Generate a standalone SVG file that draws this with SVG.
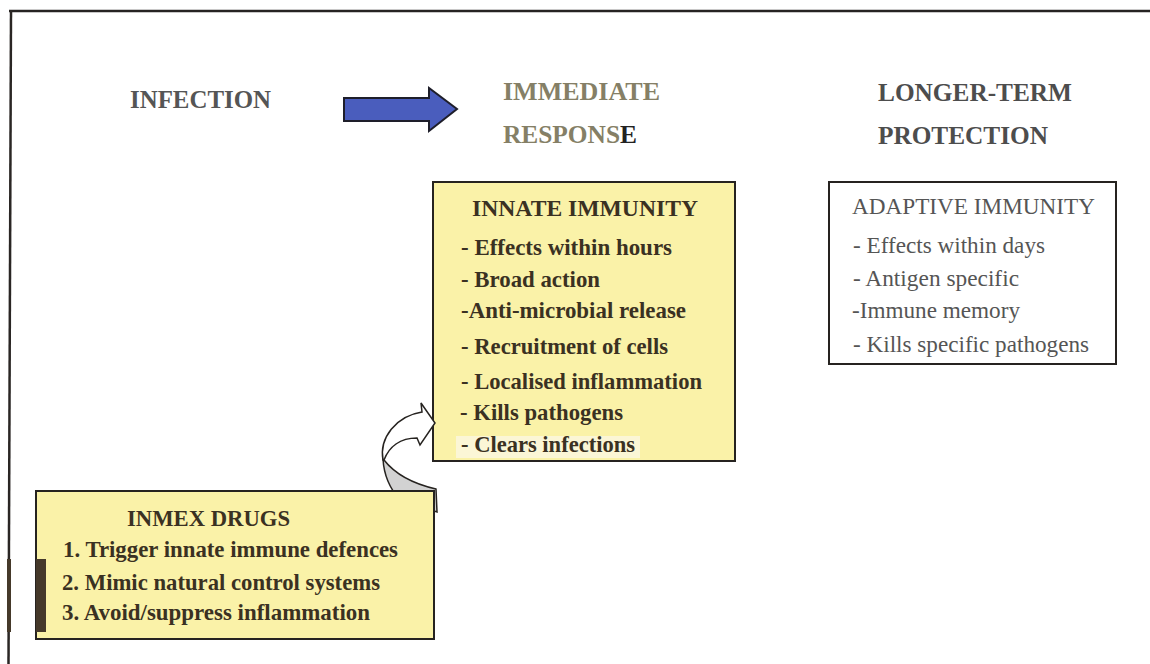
<svg xmlns="http://www.w3.org/2000/svg" width="1150" height="664" viewBox="0 0 1150 664">
<style>
.b{font-family:"Liberation Serif","Times New Roman",serif;font-weight:bold;font-size:24px}
.r{font-family:"Liberation Serif","Times New Roman",serif;font-size:23.5px}
.h{font-size:25px}
.box{fill:#faf2a8;stroke:#262320;stroke-width:2}
.it{fill:#3a3122}
.ad{fill:#555555}
</style>
<rect width="1150" height="664" fill="#ffffff"/>
<g id="frame">
<line x1="9" y1="11" x2="1150" y2="11" stroke="#262322" stroke-width="2.5"/>
<line x1="11" y1="10" x2="8.5" y2="664" stroke="#2a2624" stroke-width="2.5"/>
<rect x="7" y="559" width="4" height="73" fill="#45392a"/>
</g>
<g id="headings">
<text class="b h" x="130" y="108" fill="#555555" textLength="141" lengthAdjust="spacingAndGlyphs">INFECTION</text>
<text class="b h" x="503" y="100" fill="#857f66" textLength="157" lengthAdjust="spacingAndGlyphs">IMMEDIATE</text>
<text class="b h" x="503" y="143" fill="#857f66" textLength="134" lengthAdjust="spacingAndGlyphs">RESPONS<tspan fill="#222222">E</tspan></text>
<text class="b h" x="878" y="101" fill="#4d4d4d" textLength="194" lengthAdjust="spacingAndGlyphs">LONGER-TERM</text>
<text class="b h" x="878" y="144" fill="#4d4d4d" textLength="170" lengthAdjust="spacingAndGlyphs">PROTECTION</text>
</g>
<g id="connectors">
<polygon points="344,98 429,98 429,88 457,109 429,131 429,121 344,121" fill="#4a5dbd" stroke="#1e1e2a" stroke-width="2" stroke-linejoin="miter"/>
</g>
<g id="innate">
<rect class="box" x="433" y="182" width="302" height="279"/>
<rect x="456" y="436" width="184" height="22" fill="#fbf6d6"/>
<text class="b it" x="472" y="216" textLength="226" lengthAdjust="spacingAndGlyphs">INNATE  IMMUNITY</text>
<text class="b it" x="461" y="255" textLength="211" lengthAdjust="spacingAndGlyphs">- Effects within hours</text>
<text class="b it" x="461" y="287" textLength="139" lengthAdjust="spacingAndGlyphs">- Broad action</text>
<text class="b it" x="461" y="318" textLength="225" lengthAdjust="spacingAndGlyphs">-Anti-microbial release</text>
<text class="b it" x="461" y="354" textLength="207" lengthAdjust="spacingAndGlyphs">- Recruitment of cells</text>
<text class="b it" x="461" y="389" textLength="241" lengthAdjust="spacingAndGlyphs">- Localised inflammation</text>
<text class="b it" x="460" y="420" textLength="163" lengthAdjust="spacingAndGlyphs">- Kills pathogens</text>
<text class="b it" x="461" y="452" textLength="174" lengthAdjust="spacingAndGlyphs">- Clears infections</text>
</g>
<g id="adaptive">
<rect x="829" y="182" width="287" height="182" fill="#ffffff" stroke="#262320" stroke-width="2"/>
<text class="r ad" x="852" y="214" textLength="243" lengthAdjust="spacingAndGlyphs">ADAPTIVE  IMMUNITY</text>
<text class="r ad" x="853" y="253" textLength="192" lengthAdjust="spacingAndGlyphs">- Effects within days</text>
<text class="r ad" x="853" y="286" textLength="166" lengthAdjust="spacingAndGlyphs">- Antigen specific</text>
<text class="r ad" x="852" y="318" textLength="168" lengthAdjust="spacingAndGlyphs">-Immune memory</text>
<text class="r ad" x="853" y="352" textLength="236" lengthAdjust="spacingAndGlyphs">- Kills specific pathogens</text>
</g>
<g id="curved-arrow">
<path d="M383,459 C384,477 391,490 400,500 L437,512 L436,489 C414,484 395,474 384,460 Z" fill="#d2d2d2" stroke="#262320" stroke-width="1.5"/>
<path d="M383,460 C379,438 396,416 422,412 L421,403 L435,423 L420,445 L417,438 C400,438 389,447 384,460 Z" fill="#ffffff" stroke="#262320" stroke-width="1.5" stroke-linejoin="miter"/>
</g>
<g id="inmex">
<rect class="box" x="36" y="491" width="398" height="148"/>
<rect x="36" y="559" width="10" height="73" fill="#45392a"/>
<text class="b it" x="127" y="526" textLength="163" lengthAdjust="spacingAndGlyphs">INMEX DRUGS</text>
<text class="b it" x="63" y="557" textLength="335" lengthAdjust="spacingAndGlyphs">1. Trigger innate immune defences</text>
<text class="b it" x="62" y="590" textLength="318" lengthAdjust="spacingAndGlyphs">2. Mimic natural control systems</text>
<text class="b it" x="62" y="620" textLength="308" lengthAdjust="spacingAndGlyphs">3. Avoid/suppress inflammation</text>
</g>
</svg>
